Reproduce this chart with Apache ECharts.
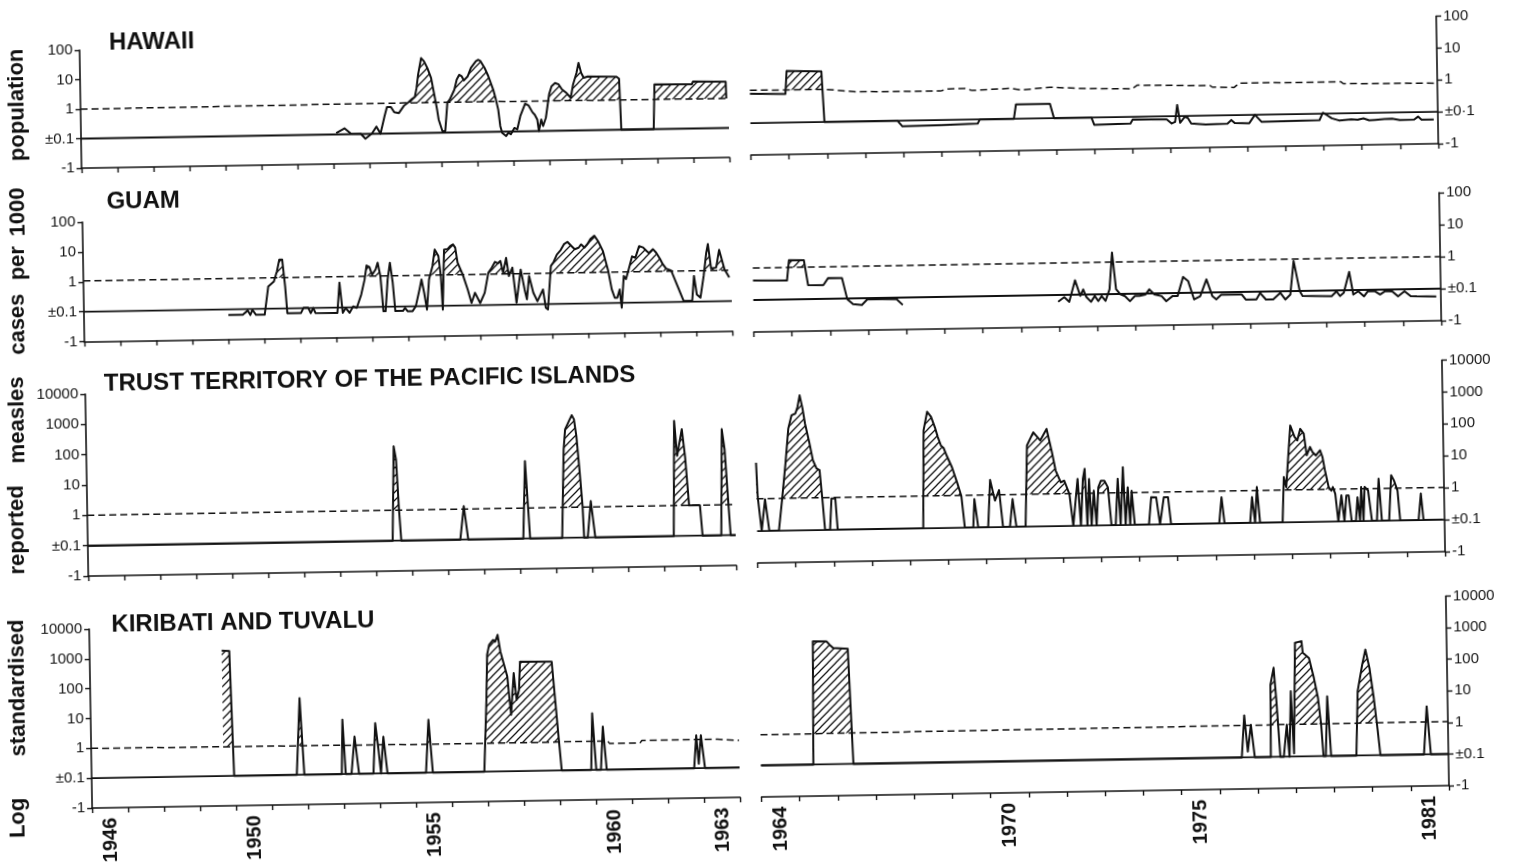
<!DOCTYPE html>
<html><head><meta charset="utf-8">
<script src="https://cdn.jsdelivr.net/npm/echarts@6.0.0/dist/echarts.min.js"></script>
<style>
html,body{margin:0;padding:0;background:#fff;overflow:hidden;}
#chart{width:1513px;height:863px;transform:rotate(-0.95deg);transform-origin:50% 50%;}
</style></head><body><div id="chart"></div>
<script>
// ---------- tick labels / categories ----------
const yearsLeft = ['1946','1947','1948','1949','1950','1951','1952','1953','1954','1955','1956','1957','1958','1959','1960','1961','1962','1963'];
const yearsRight = ['1964','1965','1966','1967','1968','1969','1970','1971','1972','1973','1974','1975','1976','1977','1978','1979','1980','1981'];
const shownYears = ['1946','1950','1955','1960','1963','1964','1970','1975','1981'];
const yTicks4 = ['-1','±0.1','1','10','100'];
const yTicks4b = ['-1','±0·1','1','10','100'];
const yTicks6 = ['-1','±0.1','1','10','100','1000','10000'];
const panelNames = ['HAWAII','GUAM','TRUST TERRITORY OF THE PACIFIC ISLANDS','KIRIBATI AND TUVALU'];
const yTitleWords = ['Log','standardised','reported','measles','cases','per','1000','population'];

// ---------- data: [year, log10 standardised value]  (-1 = "±0.1" zero line, -2 = "-1") ----------
const baselineLeft = [[1946,-1],[1964,-1]];
const baselineRight = [[1964,-1],[1982,-1]];

const hawaiiL = [[1953.09,-0.95],[1953.32,-0.80],[1953.50,-0.98],[1953.77,-0.99],[1953.90,-1.16],[1954.08,-0.99],[1954.21,-0.76],[1954.32,-1.00],[1954.44,-0.41],[1954.51,-0.10],[1954.62,-0.10],[1954.71,-0.28],[1954.84,-0.31],[1954.98,-0.07],[1955.11,0.05],[1955.21,0.16],[1955.29,0.23],[1955.34,0.52],[1955.39,0.98],[1955.48,1.54],[1955.56,1.43],[1955.65,1.20],[1955.75,0.86],[1955.83,0.30],[1955.90,-0.20],[1955.94,-0.55],[1955.99,-0.50],[1956.04,-0.95],[1956.12,-0.95],[1956.19,0.01],[1956.26,0.12],[1956.39,0.45],[1956.46,0.79],[1956.53,0.95],[1956.60,0.90],[1956.66,0.76],[1956.77,0.90],[1956.86,1.18],[1957.00,1.40],[1957.07,1.45],[1957.13,1.40],[1957.24,1.17],[1957.34,0.89],[1957.47,0.43],[1957.54,0.09],[1957.60,-0.25],[1957.65,-0.81],[1957.70,-1.04],[1957.81,-1.15],[1957.87,-1.04],[1957.94,-1.09],[1958.04,-0.88],[1958.12,-0.93],[1958.21,-0.48],[1958.35,-0.06],[1958.44,-0.12],[1958.55,-0.36],[1958.61,-0.44],[1958.68,-0.61],[1958.72,-1.00],[1958.79,-0.61],[1958.84,-0.83],[1958.92,-0.55],[1959.02,0.24],[1959.09,0.51],[1959.19,0.62],[1959.29,0.57],[1959.38,0.40],[1959.49,0.29],[1959.62,0.11],[1959.69,0.56],[1959.79,0.95],[1959.85,1.29],[1959.92,0.95],[1959.99,0.78],[1960.10,0.82],[1960.90,0.80],[1960.97,0.73],[1961.01,-1.00],[1961.91,-1.00],[1961.95,0.52],[1962.99,0.50],[1963.02,0.59],[1963.93,0.57],[1963.94,0.00]];
const hawaiiLDashed = [[1946,0.0],[1955,0.03],[1964,0.0]];

const hawaiiR = [[1964.0,-0.08],[1964.93,-0.10],[1964.97,0.62],[1965.88,0.59],[1965.94,-1.0],[1967.85,-1.0],[1967.98,-1.18],[1968.99,-1.16],[1969.95,-1.13],[1970.01,-1.0],[1970.90,-1.0],[1970.96,-0.55],[1971.85,-0.55],[1971.95,-1.0],[1972.93,-1.0],[1973.0,-1.23],[1973.95,-1.21],[1974.01,-1.08],[1974.9,-1.10],[1975.03,-1.23],[1975.12,-1.18],[1975.18,-0.65],[1975.25,-1.21],[1975.37,-1.03],[1975.45,-1.06],[1975.54,-1.24],[1975.92,-1.28],[1976.49,-1.26],[1976.59,-1.15],[1976.68,-1.25],[1977.06,-1.26],[1977.21,-1.0],[1977.38,-1.22],[1978.46,-1.21],[1978.9,-1.20],[1978.99,-0.97],[1979.10,-1.05],[1979.22,-1.15],[1979.41,-1.22],[1979.73,-1.19],[1979.9,-1.21],[1980.05,-1.17],[1980.2,-1.23],[1980.35,-1.22],[1980.6,-1.20],[1980.8,-1.19],[1981.0,-1.24],[1981.38,-1.23],[1981.48,-1.14],[1981.57,-1.24],[1981.89,-1.24]];
const hawaiiRDashed = [[1964,0.03],[1966.0,0.02],[1966.77,-0.07],[1968.99,-0.09],[1969.18,-0.03],[1969.63,-0.02],[1969.82,-0.09],[1970.84,-0.04],[1971.09,-0.10],[1971.85,-0.03],[1972.87,-0.09],[1974.01,-0.12],[1974.14,-0.01],[1976.05,-0.06],[1976.11,-0.11],[1976.68,-0.13],[1976.81,0.0],[1979.48,-0.01],[1979.54,-0.07],[1982,-0.10]];

const guamL = [[1950.01,-1.19],[1950.41,-1.19],[1950.55,-1.05],[1950.62,-1.20],[1950.68,-1.03],[1950.78,-1.20],[1951.02,-1.20],[1951.13,-0.26],[1951.29,-0.09],[1951.38,0.25],[1951.45,0.64],[1951.53,0.64],[1951.60,-0.26],[1951.65,-1.16],[1952.03,-1.16],[1952.10,-0.99],[1952.23,-0.99],[1952.30,-1.17],[1952.37,-1.00],[1952.43,-1.17],[1953.04,-1.18],[1953.11,-0.17],[1953.19,-1.18],[1953.27,-1.02],[1953.38,-1.18],[1953.48,-0.97],[1953.58,-1.02],[1953.71,-0.58],[1953.81,-0.08],[1953.87,0.39],[1953.95,0.34],[1954.02,0.08],[1954.12,0.25],[1954.18,0.48],[1954.25,0.03],[1954.32,-1.15],[1954.38,-1.15],[1954.45,-0.09],[1954.52,0.47],[1954.59,-0.20],[1954.65,-1.15],[1954.86,-1.15],[1954.92,-1.05],[1954.99,-1.16],[1955.13,-1.16],[1955.22,-1.00],[1955.33,-0.44],[1955.39,-0.11],[1955.46,-0.56],[1955.53,-1.12],[1955.60,-0.11],[1955.70,0.33],[1955.77,0.89],[1955.87,0.67],[1955.93,0.00],[1955.97,-1.13],[1956.03,0.88],[1956.07,0.94],[1956.13,0.90],[1956.20,0.99],[1956.28,1.05],[1956.34,0.94],[1956.40,0.44],[1956.54,0.03],[1956.67,-0.47],[1956.77,-0.92],[1956.87,-0.58],[1957.01,-0.93],[1957.14,-0.59],[1957.25,0.08],[1957.35,0.25],[1957.44,0.44],[1957.52,0.39],[1957.59,0.47],[1957.66,0.07],[1957.75,0.57],[1957.82,-0.04],[1957.92,0.24],[1958.02,-0.94],[1958.15,0.17],[1958.25,-0.50],[1958.31,-0.83],[1958.38,-0.05],[1958.49,-0.61],[1958.60,-0.90],[1958.65,-0.96],[1958.76,-0.51],[1958.83,-1.12],[1958.89,-1.18],[1958.99,0.27],[1959.07,0.41],[1959.16,0.65],[1959.27,0.80],[1959.36,0.99],[1959.46,1.07],[1959.57,0.93],[1959.66,0.82],[1959.77,0.87],[1959.84,0.98],[1959.93,0.87],[1960.01,0.98],[1960.10,1.15],[1960.21,1.26],[1960.31,1.08],[1960.44,0.75],[1960.58,0.08],[1960.67,-0.54],[1960.75,-0.83],[1960.82,-0.83],[1960.89,-0.55],[1960.94,-1.16],[1961.01,-0.10],[1961.07,-0.21],[1961.15,0.12],[1961.25,0.55],[1961.34,0.50],[1961.45,0.89],[1961.56,0.84],[1961.65,0.73],[1961.72,0.65],[1961.83,0.78],[1961.92,0.66],[1962.02,0.46],[1962.10,0.27],[1962.19,0.12],[1962.33,0.05],[1962.50,-0.47],[1962.66,-0.97],[1962.90,-0.97],[1962.96,-0.14],[1963.03,-0.76],[1963.13,-0.87],[1963.23,-0.14],[1963.31,0.62],[1963.36,0.92],[1963.44,0.10],[1963.58,0.13],[1963.67,0.72],[1963.81,0.07],[1963.94,-0.21]];
const guamLDashed = [[1946,0.03],[1964,0.03]];

const guamR = [[1964.0,-0.39],[1964.89,-0.41],[1964.95,0.23],[1965.34,0.22],[1965.44,-0.56],[1965.84,-0.57],[1965.97,-0.35],[1966.33,-0.36],[1966.46,-1.02],[1966.61,-1.18],[1966.84,-1.21],[1966.99,-1.03],[1967.75,-1.05],[1967.91,-1.23],[1970,null],[1971.98,-1.21],[1972.14,-1.07],[1972.27,-1.22],[1972.43,-0.55],[1972.56,-1.04],[1972.64,-0.84],[1972.72,-1.08],[1972.84,-1.23],[1972.94,-1.05],[1973.03,-1.21],[1973.12,-1.06],[1973.22,-1.21],[1973.33,-0.85],[1973.41,0.30],[1973.50,-0.85],[1973.61,-1.01],[1973.73,-1.07],[1973.86,-1.23],[1973.99,-1.07],[1974.11,-1.07],[1974.27,-1.03],[1974.37,-0.87],[1974.50,-1.03],[1974.69,-1.09],[1974.81,-1.25],[1974.98,-1.09],[1975.11,-1.09],[1975.26,-0.50],[1975.39,-0.63],[1975.54,-1.21],[1975.70,-1.11],[1975.87,-0.59],[1976.02,-1.12],[1976.12,-1.22],[1976.25,-1.08],[1976.79,-1.08],[1976.89,-1.24],[1977.17,-1.24],[1977.27,-1.04],[1977.42,-1.25],[1977.61,-1.25],[1977.80,-1.05],[1977.93,-1.26],[1978.06,-1.11],[1978.16,-0.06],[1978.31,-1.01],[1978.38,-1.16],[1979.14,-1.18],[1979.27,-1.03],[1979.36,-1.18],[1979.46,-1.08],[1979.61,-0.43],[1979.71,-1.14],[1979.84,-1.04],[1979.99,-1.20],[1980.09,-1.04],[1980.28,-1.05],[1980.41,-1.15],[1980.54,-1.05],[1980.73,-1.06],[1980.88,-1.22],[1981.05,-1.06],[1981.21,-1.22],[1981.37,-1.23],[1981.88,-1.24]];
const guamRDashed = [[1964,0.0],[1982,0.0]];

const trustL = [[1946,-1],[1954.47,-1],[1954.54,2.11],[1954.60,1.67],[1954.66,0.02],[1954.71,-1],[1956.35,-1],[1956.46,0.10],[1956.57,-1],[1958.10,-1],[1958.18,1.55],[1958.29,-1],[1959.18,-1],[1959.26,1.92],[1959.31,2.58],[1959.42,2.85],[1959.50,3.04],[1959.56,2.90],[1959.62,2.35],[1959.69,1.25],[1959.76,0.04],[1959.79,-1],[1959.89,-1],[1959.99,0.20],[1960.10,-1],[1962.28,-1],[1962.34,2.80],[1962.41,1.64],[1962.55,2.52],[1962.63,1.60],[1962.72,0.0],[1962.88,0.0],[1963.02,0.0],[1963.08,-1],[1963.60,-1],[1963.66,2.50],[1963.73,1.84],[1963.82,-0.15],[1963.86,-1],[1964,-1]];
const trustLDashed = [[1946,0.0],[1964,0.0]];

const trustR = [[1964.0,1.14],[1964.03,0.07],[1964.12,-1],[1964.22,-0.01],[1964.32,-1],[1964.57,-1],[1964.67,0.01],[1964.77,1.10],[1964.86,2.20],[1964.95,2.61],[1965.05,2.66],[1965.11,2.87],[1965.17,3.23],[1965.24,2.82],[1965.30,2.34],[1965.40,1.77],[1965.49,1.19],[1965.58,0.93],[1965.66,0.88],[1965.72,-0.01],[1965.78,-1],[1965.91,-1],[1965.96,-0.02],[1966.06,-0.02],[1966.11,-1],[1968.35,-1],[1968.40,2.07],[1968.50,2.65],[1968.60,2.49],[1968.70,2.15],[1968.77,1.85],[1968.85,1.58],[1968.92,1.50],[1969.00,1.25],[1969.13,0.89],[1969.26,0.40],[1969.36,0.0],[1969.44,-1],[1969.66,-1],[1969.70,-0.11],[1969.79,-1],[1970.05,-1],[1970.12,0.48],[1970.24,-0.17],[1970.35,0.16],[1970.44,-1],[1970.62,-1],[1970.70,-0.13],[1970.79,-1],[1971.03,-1],[1971.10,1.54],[1971.27,1.95],[1971.45,1.69],[1971.62,2.05],[1971.75,1.32],[1971.84,0.74],[1971.97,0.37],[1972.06,0.42],[1972.19,0.0],[1972.28,-1],[1972.41,0.47],[1972.48,-1],[1972.55,0.47],[1972.60,0.78],[1972.65,-1],[1972.71,0.46],[1972.76,-1],[1972.83,0.09],[1972.89,-1],[1972.95,0.20],[1973.02,0.40],[1973.11,0.40],[1973.20,0.19],[1973.28,-1],[1973.39,-1],[1973.46,0.45],[1973.52,-1],[1973.60,0.81],[1973.65,-1],[1973.72,0.18],[1973.77,-1],[1973.82,0.07],[1973.89,-1],[1974.26,-1],[1974.33,-0.14],[1974.46,-0.15],[1974.55,-1],[1974.59,-1],[1974.66,-0.15],[1974.77,-0.15],[1974.84,-1],[1976.10,-1],[1976.17,-0.18],[1976.24,-1],[1976.91,-1],[1976.97,-0.19],[1977.04,-1],[1977.10,0.12],[1977.17,-1],[1977.76,-1],[1977.81,0.42],[1977.87,0.10],[1978.00,2.03],[1978.11,1.67],[1978.18,1.56],[1978.26,1.92],[1978.35,1.77],[1978.42,1.09],[1978.51,1.35],[1978.57,1.19],[1978.66,1.08],[1978.77,1.24],[1978.83,1.03],[1978.89,0.61],[1978.98,0.08],[1979.05,-0.03],[1979.09,0.08],[1979.15,-0.13],[1979.22,-1],[1979.31,-0.18],[1979.38,-1],[1979.44,-0.19],[1979.50,-0.19],[1979.57,-1],[1979.68,-1],[1979.73,-0.25],[1979.79,-1],[1979.83,0.07],[1979.88,-1],[1979.92,0.07],[1980.01,-0.04],[1980.10,-1],[1980.23,-1],[1980.29,0.32],[1980.36,-1],[1980.55,-1],[1980.62,0.42],[1980.69,0.26],[1980.78,-0.06],[1980.84,-1],[1981.32,-1],[1981.39,-0.17],[1981.45,-1],[1981.95,-1]];
const trustRDashed = [[1964,0.01],[1982,0.01]];

const kiribatiL = [[1949.67,3.20],[1949.88,3.19],[1949.96,-1],[1951.70,-1],[1951.81,1.57],[1951.91,-1],[1952.95,-1],[1952.99,0.82],[1953.06,-1],[1953.22,-1],[1953.32,0.25],[1953.43,-1],[1953.83,-1],[1953.90,0.69],[1953.98,-0.2],[1954.04,-1],[1954.12,0.23],[1954.22,-1],[1955.29,-1],[1955.38,0.77],[1955.48,-1],[1956.91,-1],[1957.00,1.41],[1957.04,2.92],[1957.10,3.25],[1957.21,3.41],[1957.27,3.35],[1957.34,3.58],[1957.41,3.02],[1957.48,2.69],[1957.59,2.18],[1957.68,0.89],[1957.77,2.29],[1957.84,1.39],[1957.91,1.72],[1957.95,2.67],[1958.83,2.65],[1958.99,0.08],[1959.06,-1],[1959.88,-1],[1959.93,0.90],[1960.02,-1],[1960.15,-1],[1960.22,0.45],[1960.31,-1],[1962.74,-1],[1962.81,0.10],[1962.87,-0.85],[1962.94,0.10],[1963.04,-1],[1964,-1]];
const kiribatiLDashed = [[1946,0.0],[1956,-0.05],[1960.35,-0.04],[1960.4,-0.12],[1961.25,-0.12],[1961.3,-0.04],[1963.4,-0.04],[1963.45,-0.09],[1964,-0.09]];

const kiribatiR = [[1964,-1],[1965.37,-1],[1965.41,2.90],[1965.77,2.89],[1965.84,2.79],[1965.94,2.68],[1966.32,2.65],[1966.42,-1],[1976.59,-1],[1976.67,0.33],[1976.75,-0.82],[1976.84,0.03],[1976.93,-1],[1977.35,-1],[1977.37,1.29],[1977.46,1.82],[1977.52,0.76],[1977.60,-1],[1977.69,-1],[1977.78,0.01],[1977.84,-1],[1977.90,1.07],[1977.96,-0.9],[1978.00,-0.9],[1978.03,2.60],[1978.20,2.65],[1978.23,2.28],[1978.39,2.11],[1978.51,1.48],[1978.61,0.84],[1978.68,0.0],[1978.73,-1],[1978.79,-1],[1978.85,0.89],[1978.93,-1],[1979.59,-1],[1979.65,1.03],[1979.78,1.87],[1979.87,2.35],[1979.97,1.76],[1980.07,0.81],[1980.16,-0.24],[1980.22,-1],[1981.36,-1],[1981.45,0.52],[1981.54,-1],[1982,-1]];
const kiribatiRDashed = [[1964,-0.03],[1982,0.03]];

// ---------- layout (positions / styles only) ----------
const INK = '#111111';
const FONT = '"Liberation Sans", Arial, Helvetica, sans-serif';
const panels = [
  {box:[86,39,648,118],      side:'left',  x0:1946, years:yearsLeft,  yMax:2, labels:yTicks4,  values:hawaiiL,   dashed:hawaiiLDashed,   base:baselineLeft,  axisYears:false},
  {box:[755.5,27.5,687.5,127.5], side:'right', x0:1964, years:yearsRight, yMax:2, labels:yTicks4b, values:hawaiiR,   dashed:hawaiiRDashed,   base:baselineRight, axisYears:false},
  {box:[86,211,648,119.5],   side:'left',  x0:1946, years:yearsLeft,  yMax:2, labels:yTicks4,  values:guamL,     dashed:guamLDashed,     base:baselineLeft,  axisYears:false},
  {box:[755.5,204,687.5,128],side:'right', x0:1964, years:yearsRight, yMax:2, labels:yTicks4,  values:guamR,     dashed:guamRDashed,     base:baselineRight, axisYears:false},
  {box:[86,383,648,182],     side:'left',  x0:1946, years:yearsLeft,  yMax:4, labels:yTicks6,  values:trustL,    dashed:trustLDashed,    base:baselineLeft,  axisYears:false},
  {box:[755.5,371.5,687.5,191.5], side:'right', x0:1964, years:yearsRight, yMax:4, labels:yTicks6, values:trustR, dashed:trustRDashed, base:baselineRight, axisYears:false},
  {box:[86,618,648,179],     side:'left',  x0:1946, years:yearsLeft,  yMax:4, labels:yTicks6,  values:kiribatiL, dashed:kiribatiLDashed, base:baselineLeft,  axisYears:true},
  {box:[755.5,607.5,687.5,189.5], side:'right', x0:1964, years:yearsRight, yMax:4, labels:yTicks6, values:kiribatiR, dashed:kiribatiRDashed, base:baselineRight, axisYears:true}
];
const titlePos = [[115.5,32.4],[110.4,191.7],[104.8,373.2],[108.3,614.8]];
const wordPos = [[11.6,805.7],[13.7,675.7],[16.4,517.7],[18.2,407.7],[19.9,312],[20.7,251],[21.6,199.7],[23.4,92.7]];

// ---------- hatch pattern ----------
const pc = document.createElement('canvas'); pc.width = 8; pc.height = 8;
const pctx = pc.getContext('2d'); pctx.strokeStyle = INK; pctx.lineWidth = 1.25;
pctx.beginPath(); pctx.moveTo(-1,9); pctx.lineTo(9,-1); pctx.moveTo(-1,1); pctx.lineTo(1,-1); pctx.moveTo(7,9); pctx.lineTo(9,7); pctx.stroke();
const hatch = {image: pc, repeat: 'repeat'};

// ---------- region above the dashed line (derived from the series) ----------
function interp(line, x) {
  if (x <= line[0][0]) return line[0][1];
  for (let i = 0; i < line.length - 1; i++) {
    const a = line[i], b = line[i+1];
    if (x <= b[0]) { if (b[0] === a[0]) return b[1]; return a[1] + (b[1]-a[1])*(x-a[0])/(b[0]-a[0]); }
  }
  return line[line.length-1][1];
}
function hatchPolygons(values, dashed) {
  const runs = []; let run = [];
  values.forEach(p => { if (p[1] == null) { if (run.length) runs.push(run); run = []; } else run.push(p); });
  if (run.length) runs.push(run);
  const polys = [];
  const bx = dashed.map(d => d[0]);
  runs.forEach(r => {
    const pts = [r[0]];
    for (let i = 1; i < r.length; i++) {
      const a = r[i-1], b = r[i];
      if (b[0] > a[0]) bx.forEach(x => { if (x > a[0] && x < b[0]) pts.push([x, a[1] + (b[1]-a[1])*(x-a[0])/(b[0]-a[0])]); });
      pts.push(b);
    }
    let cur = null;
    const close = () => {
      if (cur && cur.length > 1) {
        const x0 = cur[0][0], x1 = cur[cur.length-1][0];
        const lower = [[x1, interp(dashed, x1)]];
        for (let k = dashed.length-1; k >= 0; k--) { const x = dashed[k][0]; if (x > x0 && x < x1) lower.push([x, dashed[k][1]]); }
        lower.push([x0, interp(dashed, x0)]);
        polys.push(cur.concat(lower));
      }
      cur = null;
    };
    let prev = null, fprev = 0;
    pts.forEach(p => {
      const f = p[1] - interp(dashed, p[0]);
      if (prev && ((fprev > 0) !== (f > 0))) {
        const t = fprev / (fprev - f);
        const c = [prev[0] + t*(p[0]-prev[0]), prev[1] + t*(p[1]-prev[1])];
        if (cur) { cur.push(c); close(); } else { cur = [c]; }
      }
      if (f > 0) { if (!cur) cur = []; cur.push(p); }
      prev = p; fprev = f;
    });
    close();
  });
  return polys;
}

// ---------- build option ----------
const grids = [], xAxes = [], yAxes = [], series = [];
panels.forEach((p, i) => {
  grids.push({left:p.box[0], top:p.box[1], width:p.box[2], height:p.box[3]});
  xAxes.push({type:'value', gridIndex:i, min:p.x0, max:p.x0+18, show:false, position:'bottom'});
  xAxes.push({type:'category', gridIndex:i, data:p.years, boundaryGap:true, position:'bottom',
    axisLine:{show:true, onZero:false, lineStyle:{color:INK, width:1.6}},
    axisTick:{show:true, interval:0, length:5, lineStyle:{color:INK, width:1.4}},
    axisLabel:{show:p.axisYears, interval:(idx, val) => shownYears.indexOf(val) >= 0, rotate:90, margin:10,
      color:INK, fontSize:20, fontWeight:'bold', fontFamily:FONT},
    splitLine:{show:false}});
  yAxes.push({type:'value', gridIndex:i, min:-2, max:p.yMax, interval:1, position:p.side,
    axisLine:{show:true, onZero:false, lineStyle:{color:INK, width:1.6}},
    axisTick:{show:true, length:5, lineStyle:{color:INK, width:1.4}},
    axisLabel:{formatter: v => p.labels[Math.round(v + 2)], margin: 7,
      color:INK, fontSize:15, fontFamily:FONT},
    splitLine:{show:false}});
  const polys = hatchPolygons(p.values, p.dashed);
  series.push({type:'custom', xAxisIndex:2*i, yAxisIndex:i, silent:true, z:1, clip:true,
    data: polys.map((pl, k) => [pl[0][0], pl[0][1], k]), encode:{x:0, y:1},
    renderItem: (params, api) => {
      const pl = polys[api.value(2)];
      return {type:'polygon', shape:{points: pl.map(q => api.coord(q))}, style:{fill: hatch, stroke: null}};
    }});
  series.push({type:'line', xAxisIndex:2*i, yAxisIndex:i, data:p.base, symbol:'none', silent:true, z:2,
    lineStyle:{color:INK, width:1.8}});
  series.push({type:'line', xAxisIndex:2*i, yAxisIndex:i, data:p.dashed, symbol:'none', silent:true, z:2,
    lineStyle:{color:INK, width:1.5, type:[7,4]}});
  series.push({type:'line', xAxisIndex:2*i, yAxisIndex:i, data:p.values, symbol:'none', silent:true, z:3,
    connectNulls:false, lineStyle:{color:INK, width:2.0, join:'round'}});
});

const graphics = [];
panelNames.forEach((t, i) => graphics.push({type:'text', x:titlePos[i][0], y:titlePos[i][1], silent:true,
  style:{text:t, fill:INK, font:'bold 24px ' + FONT, align:'left', verticalAlign:'middle'}}));
yTitleWords.forEach((w, i) => graphics.push({type:'text', x:wordPos[i][0], y:wordPos[i][1], rotation:Math.PI/2, silent:true,
  style:{text:w, fill:INK, font:'bold 22px ' + FONT, align:'center', verticalAlign:'middle'}}));

const chart = echarts.init(document.getElementById('chart'), null, {renderer:'canvas'});
chart.setOption({animation:false, backgroundColor:'#ffffff', grid:grids, xAxis:xAxes, yAxis:yAxes, series:series, graphic:graphics});
</script></body></html>
